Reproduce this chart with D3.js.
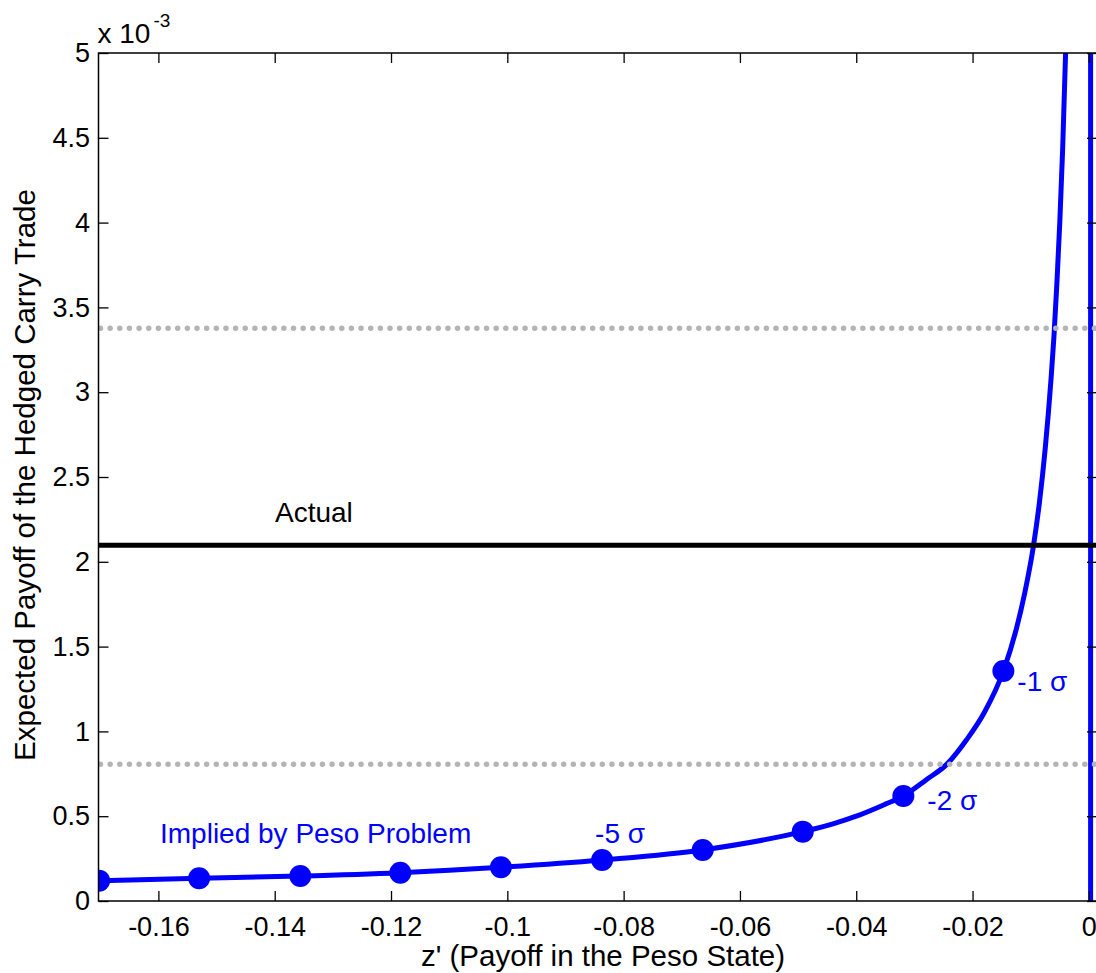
<!DOCTYPE html>
<html>
<head>
<meta charset="utf-8">
<script src="https://cdn.jsdelivr.net/npm/d3@7"></script>
<style>
  body { margin: 0; background: #fff; }
  svg { display: block; font-family: "Liberation Sans", Arial, sans-serif; }
</style>
</head>
<body>
<svg id="chart" width="1096" height="973"></svg>
<script>
// payoffs are in units of 10^-3 (see the axis multiplier)
const sigmaZ = [-0.1702, -0.1530, -0.1356, -0.1184, -0.1011, -0.0837, -0.0664, -0.0492, -0.0319, -0.0147];
const sigmaPayoff = [0.120, 0.134, 0.147, 0.167, 0.199, 0.242, 0.301, 0.409, 0.619, 1.356];

const curveZ = [-0.1702, -0.153, -0.1356, -0.1184, -0.1011, -0.0837, -0.0664, -0.0492, -0.044, -0.040,
  -0.035, -0.0319, -0.028, -0.0244, -0.021, -0.018, -0.0147, -0.0125, -0.011, -0.0095,
  -0.0085, -0.0075, -0.0065, -0.006, -0.0055, -0.005, -0.0045, -0.004, -0.003, -0.002];
const curvePayoff = [0.120, 0.134, 0.147, 0.167, 0.199, 0.242, 0.301, 0.409, 0.455, 0.50,
  0.571, 0.619, 0.714, 0.807, 0.952, 1.11, 1.356, 1.60, 1.82, 2.10,
  2.35, 2.67, 3.08, 3.33, 3.64, 4.00, 4.44, 5.00, 6.67, 10.0];

// the other branch: drawn as a vertical line at z' = 0
const branchZ = [0.0003, 0.0003];
const branchPayoff = [10.0, -1.0];

const actualPayoff = 2.098;
const bandPayoff = [3.377, 0.807];

const xTicks = [-0.16, -0.14, -0.12, -0.1, -0.08, -0.06, -0.04, -0.02, 0];
const yTicks = [0, 0.5, 1, 1.5, 2, 2.5, 3, 3.5, 4, 4.5, 5];

const sigmaLabels = [
  {z: -0.0837, p: 0.242, text: '-5 \u03c3', dx: -7, dy: -17},
  {z: -0.0319, p: 0.619, text: '-2 \u03c3', dx: 24, dy: 14},
  {z: -0.0147, p: 1.356, text: '-1 \u03c3', dx: 14, dy: 20},
];

const svg = d3.select('#chart');
const plotLeft = 98.5, plotRight = 1097, plotTop = 53, plotBottom = 901;

const x = d3.scaleLinear().domain([-0.1703, 0.0014]).range([plotLeft, plotRight]);
const y = d3.scaleLinear().domain([0, 5]).range([plotBottom, plotTop]);

svg.append('defs').append('clipPath').attr('id', 'plot')
  .append('rect')
  .attr('x', plotLeft).attr('y', plotTop)
  .attr('width', plotRight - plotLeft).attr('height', plotBottom - plotTop);

const plot = svg.append('g').attr('clip-path', 'url(#plot)');

const line = d3.line().x(d => x(d[0])).y(d => y(d[1]));

plot.append('path')
  .datum(d3.zip(curveZ, curvePayoff))
  .attr('d', line.curve(d3.curveMonotoneX))
  .attr('fill', 'none')
  .attr('stroke', '#0000ff')
  .attr('stroke-width', 5)
  .attr('stroke-linejoin', 'round');

plot.append('path')
  .datum(d3.zip(branchZ, branchPayoff))
  .attr('d', d3.line().x(d => x(d[0])).y(d => y(d[1])))
  .attr('fill', 'none')
  .attr('stroke', '#0000ff')
  .attr('stroke-width', 5);

plot.selectAll('circle.sigma')
  .data(d3.zip(sigmaZ, sigmaPayoff))
  .join('circle')
  .attr('class', 'sigma')
  .attr('cx', d => x(d[0]))
  .attr('cy', d => y(d[1]))
  .attr('r', 11)
  .attr('fill', '#0000ff');

plot.append('line')
  .attr('x1', plotLeft).attr('x2', plotRight)
  .attr('y1', y(actualPayoff)).attr('y2', y(actualPayoff))
  .attr('stroke', '#000')
  .attr('stroke-width', 5);

plot.selectAll('line.band')
  .data(bandPayoff)
  .join('line')
  .attr('class', 'band')
  .attr('x1', plotLeft + 2).attr('x2', plotRight)
  .attr('y1', d => y(d)).attr('y2', d => y(d))
  .attr('stroke', '#b4b4b4')
  .attr('stroke-width', 5.5)
  .attr('stroke-linecap', 'round')
  .attr('stroke-dasharray', '0 9.65');

// axes box with inward ticks
const fmt = d => d === 0 ? '0' : String(+d.toFixed(2));
const axisStyle = g => {
  g.select('.domain').remove();
  g.selectAll('line').attr('stroke', '#000').attr('stroke-width', 1.3);
  g.selectAll('text').attr('font-size', 27).attr('fill', '#000');
};

svg.append('g')
  .attr('transform', `translate(0,${plotBottom})`)
  .call(d3.axisBottom(x).tickValues(xTicks).tickFormat(fmt).tickSizeInner(-10).tickPadding(15.5))
  .call(axisStyle);
svg.append('g')
  .attr('transform', `translate(0,${plotTop})`)
  .call(d3.axisTop(x).tickValues(xTicks).tickFormat('').tickSizeInner(-10))
  .call(axisStyle);
svg.append('g')
  .attr('transform', `translate(${plotLeft},0)`)
  .call(d3.axisLeft(y).tickValues(yTicks).tickFormat(fmt).tickSizeInner(-10).tickPadding(8.5))
  .call(axisStyle);
svg.append('g')
  .attr('transform', `translate(${plotRight},0)`)
  .call(d3.axisRight(y).tickValues(yTicks).tickFormat('').tickSizeInner(-10))
  .call(axisStyle);

svg.append('rect')
  .attr('x', plotLeft).attr('y', plotTop)
  .attr('width', plotRight - plotLeft).attr('height', plotBottom - plotTop)
  .attr('fill', 'none')
  .attr('stroke', '#000')
  .attr('stroke-width', 1.5);

// multiplier
const mult = svg.append('text').attr('x', plotLeft - 1).attr('y', 43).attr('font-size', 28);
mult.append('tspan').text('x 10');
mult.append('tspan').attr('dx', 3).attr('dy', -16).attr('font-size', 19).text('-3');

// annotations
svg.append('text')
  .attr('x', 275).attr('y', 522)
  .attr('font-size', 28)
  .text('Actual');

svg.append('text')
  .attr('x', 160).attr('y', 843)
  .attr('font-size', 28)
  .attr('fill', '#0000ff')
  .text('Implied by Peso Problem');

svg.selectAll('text.sig')
  .data(sigmaLabels)
  .join('text')
  .attr('class', 'sig')
  .attr('x', d => x(d.z) + d.dx)
  .attr('y', d => y(d.p) + d.dy)
  .attr('font-size', 28)
  .attr('fill', '#0000ff')
  .text(d => d.text);

// axis titles
svg.append('text')
  .attr('x', 603).attr('y', 966)
  .attr('text-anchor', 'middle')
  .attr('font-size', 29.5)
  .text("z' (Payoff in the Peso State)");

svg.append('text')
  .attr('transform', 'translate(35,475) rotate(-90)')
  .attr('text-anchor', 'middle')
  .attr('font-size', 29.5)
  .text('Expected Payoff of the Hedged Carry Trade');
</script>
</body>
</html>
